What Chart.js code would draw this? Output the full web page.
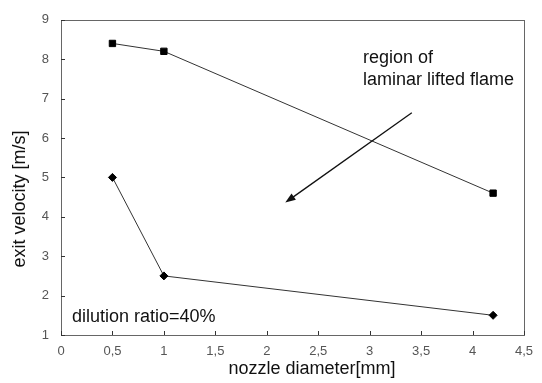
<!DOCTYPE html>
<html>
<head>
<meta charset="utf-8">
<script src="https://cdn.jsdelivr.net/npm/chart.js@4.4.0/dist/chart.umd.min.js"></script>
<style>
  html, body { margin: 0; padding: 0; background: #fff; }
  #wrap { width: 542px; height: 383px; }
</style>
</head>
<body>
<div id="wrap"><canvas id="myChart"></canvas></div>
<script>
// nozzle diameter [mm]
var diameters = [0.5, 1, 4.2];
// exit velocity [m/s]
var upperVelocity = [8.4, 8.2, 4.6];
var lowerVelocity = [5.0, 2.5, 1.5];
var xTicks = [0, 0.5, 1, 1.5, 2, 2.5, 3, 3.5, 4, 4.5];
var yTicks = [1, 2, 3, 4, 5, 6, 7, 8, 9];
// arrow annotation, in data units (start -> head)
var arrowFrom = [3.41, 6.64];
var arrowTo = [2.18, 4.36];

function toPoints(xs, ys) {
    var pts = [];
    for (var i = 0; i < xs.length; i++) {
        pts.push({x: xs[i], y: ys[i]});
    }
    return pts;
}

var font = "'Liberation Sans', Arial, sans-serif";

// box, inside ticks, titles, arrow and notes
const extras = {
    id: 'extras',
    afterDraw(chart) {
        const c = chart.ctx;
        const a = chart.chartArea;
        const xs = chart.scales.x, ys = chart.scales.y;
        c.save();
        c.strokeStyle = '#666';
        c.lineWidth = 1;
        c.strokeRect(Math.round(a.left) + 0.5, Math.round(a.top) + 0.5,
            Math.round(a.right - a.left), Math.round(a.bottom - a.top));
        c.strokeStyle = '#333';
        c.beginPath();
        xTicks.forEach(function (v) {
            var px = Math.round(xs.getPixelForValue(v)) + 0.5;
            c.moveTo(px, a.bottom);
            c.lineTo(px, a.bottom - 4);
        });
        yTicks.forEach(function (v) {
            var py = Math.round(ys.getPixelForValue(v)) + 0.5;
            c.moveTo(a.left, py);
            c.lineTo(a.left + 4, py);
        });
        c.stroke();

        // arrow
        var x1 = xs.getPixelForValue(arrowFrom[0]), y1 = ys.getPixelForValue(arrowFrom[1]);
        var x2 = xs.getPixelForValue(arrowTo[0]), y2 = ys.getPixelForValue(arrowTo[1]);
        var ang = Math.atan2(y2 - y1, x2 - x1);
        c.strokeStyle = '#111';
        c.lineWidth = 1.3;
        c.beginPath();
        c.moveTo(x1, y1);
        c.lineTo(x2 - 6 * Math.cos(ang), y2 - 6 * Math.sin(ang));
        c.stroke();
        c.fillStyle = '#111';
        c.beginPath();
        c.moveTo(x2, y2);
        c.lineTo(x2 - 11 * Math.cos(ang - 0.35), y2 - 11 * Math.sin(ang - 0.35));
        c.lineTo(x2 - 11 * Math.cos(ang + 0.35), y2 - 11 * Math.sin(ang + 0.35));
        c.closePath();
        c.fill();

        // notes
        c.fillStyle = '#111';
        c.font = '18px ' + font;
        c.textAlign = 'left';
        c.textBaseline = 'middle';
        c.fillText('region of', 363, 58);
        c.fillText('laminar lifted flame', 363, 80);
        c.fillText('dilution ratio=40%', 72, 317);

        // axis titles
        c.font = '18px ' + font;
        c.textAlign = 'center';
        c.fillText('nozzle diameter[mm]', 312, 369);
        c.translate(20, 199);
        c.rotate(-Math.PI / 2);
        c.fillText('exit velocity [m/s]', 0, 0);
        c.restore();
    }
};

const ctx = document.getElementById('myChart').getContext('2d');
const myChart = new Chart(ctx, {
    type: 'scatter',
    data: {
        datasets: [
            {
                data: toPoints(diameters, upperVelocity),
                showLine: true,
                borderColor: '#333',
                borderWidth: 1,
                backgroundColor: '#000',
                pointBackgroundColor: '#000',
                pointBorderColor: '#000',
                pointStyle: 'rect',
                pointRadius: 4.5,
                pointHoverRadius: 4.5
            },
            {
                data: toPoints(diameters, lowerVelocity),
                showLine: true,
                borderColor: '#333',
                borderWidth: 1,
                backgroundColor: '#000',
                pointBackgroundColor: '#000',
                pointBorderColor: '#000',
                pointStyle: 'rectRot',
                pointRadius: 4,
                pointHoverRadius: 4
            }
        ]
    },
    options: {
        responsive: true,
        maintainAspectRatio: false,
        animation: false,
        layout: { padding: { left: 0, right: 15, top: 12, bottom: 0 } },
        plugins: { legend: { display: false }, tooltip: { enabled: false } },
        scales: {
            x: {
                type: 'linear',
                min: 0,
                max: 4.5,
                afterBuildTicks: function (s) { s.ticks = xTicks.map(function (v) { return {value: v}; }); },
                afterFit: function (s) { s.height = 48; },
                grid: { display: false, drawTicks: false },
                border: { display: false },
                ticks: {
                    padding: 9,
                    color: '#555',
                    font: { family: font, size: 13 },
                    maxRotation: 0,
                    callback: function (v) { return String(v).replace('.', ','); }
                }
            },
            y: {
                min: 1,
                max: 9,
                afterBuildTicks: function (s) { s.ticks = yTicks.map(function (v) { return {value: v}; }); },
                afterFit: function (s) { s.width = 61; },
                grid: { display: false, drawTicks: false },
                border: { display: false },
                ticks: {
                    padding: 12,
                    color: '#555',
                    font: { family: font, size: 13 }
                }
            }
        }
    },
    plugins: [extras]
});
</script>
</body>
</html>
